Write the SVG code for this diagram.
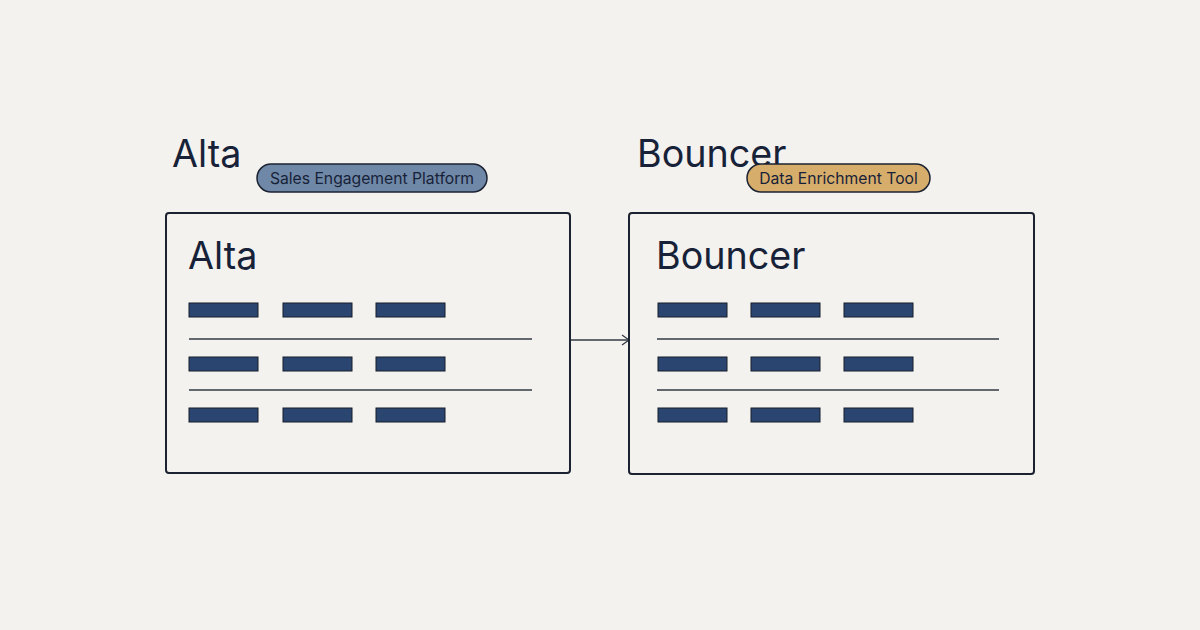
<svg xmlns="http://www.w3.org/2000/svg" width="1200" height="630" viewBox="0 0 1200 630">
<defs>
<style>
.title{font-family:"Inter","Liberation Sans",sans-serif;font-size:37.7px;fill:#172238}
.tag{font-family:"Inter","Liberation Sans",sans-serif;font-size:15.7px;fill:#172238}
.box{fill:#f3f2ee;stroke:#1b2232;stroke-width:2}
.bar{fill:#2a4670;stroke:#141c2b;stroke-width:1}
.div{stroke:#333a45;stroke-width:1.3}
.conn{stroke:#333a45;stroke-width:1.3;fill:none}
</style>
<marker id="arr" markerWidth="10" markerHeight="12" refX="8" refY="6" orient="auto" markerUnits="userSpaceOnUse">
<path d="M1,1 L8,6 L1,11" fill="none" stroke="#333a45" stroke-width="1.3"/>
</marker>
</defs>
<rect width="1200" height="630" fill="#f3f2ee"/>
<g id="connectors">
<line class="conn" x1="570" y1="340" x2="629" y2="340" marker-end="url(#arr)"/>
</g>
<g id="alta">
<text class="title" x="172" y="167">Alta</text>
<rect x="257" y="164" width="230" height="28" rx="14" fill="#6f88a7" stroke="#1b2232" stroke-width="1.5"/>
<text class="tag" x="372" y="183.5" text-anchor="middle">Sales Engagement Platform</text>
<rect class="box" x="166" y="213" width="404" height="260" rx="3"/>
<text class="title" x="188" y="269">Alta</text>
<rect class="bar" x="189" y="303" width="69" height="14"/>
<rect class="bar" x="283" y="303" width="69" height="14"/>
<rect class="bar" x="376" y="303" width="69" height="14"/>
<line class="div" x1="189" y1="339" x2="532" y2="339"/>
<rect class="bar" x="189" y="357" width="69" height="14"/>
<rect class="bar" x="283" y="357" width="69" height="14"/>
<rect class="bar" x="376" y="357" width="69" height="14"/>
<line class="div" x1="189" y1="390" x2="532" y2="390"/>
<rect class="bar" x="189" y="408" width="69" height="14"/>
<rect class="bar" x="283" y="408" width="69" height="14"/>
<rect class="bar" x="376" y="408" width="69" height="14"/>
</g>
<g id="bouncer">
<text class="title" x="637" y="167">Bouncer</text>
<rect x="747" y="164" width="183" height="28" rx="14" fill="#d6ad6b" stroke="#1b2232" stroke-width="1.5"/>
<text class="tag" x="838.5" y="183.5" text-anchor="middle">Data Enrichment Tool</text>
<rect class="box" x="629" y="213" width="405" height="261" rx="3"/>
<text class="title" x="656" y="269">Bouncer</text>
<rect class="bar" x="658" y="303" width="69" height="14"/>
<rect class="bar" x="751" y="303" width="69" height="14"/>
<rect class="bar" x="844" y="303" width="69" height="14"/>
<line class="div" x1="657" y1="339" x2="999" y2="339"/>
<rect class="bar" x="658" y="357" width="69" height="14"/>
<rect class="bar" x="751" y="357" width="69" height="14"/>
<rect class="bar" x="844" y="357" width="69" height="14"/>
<line class="div" x1="657" y1="390" x2="999" y2="390"/>
<rect class="bar" x="658" y="408" width="69" height="14"/>
<rect class="bar" x="751" y="408" width="69" height="14"/>
<rect class="bar" x="844" y="408" width="69" height="14"/>
</g>
</svg>
